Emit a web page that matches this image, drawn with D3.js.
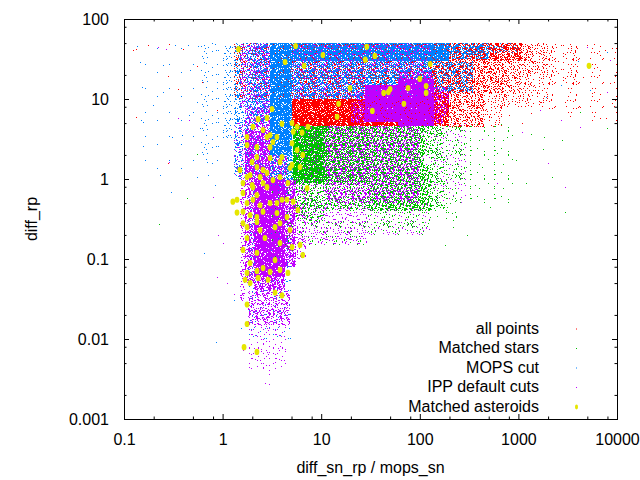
<!DOCTYPE html>
<html>
<head>
<meta charset="utf-8">
<title>diff_rp vs diff_sn_rp / mops_sn</title>
<script src="https://d3js.org/d3.v7.min.js"></script>
<style>
  body { margin: 0; background: #fff; }
  svg { display: block; }
  text { font-family: "Liberation Sans", Arial, sans-serif; font-size: 16px; fill: #000; }
</style>
</head>
<body>
<svg width="640" height="480"></svg>
<script>
// legend order = drawing order
const seriesNames = ["all points", "Matched stars", "MOPS cut", "IPP default cuts", "Matched asteroids"];
const seriesColors = ["#ff0000", "#00c000", "#0080ff", "#c000ff", "#e6e600"];

// dense areas, binned: [x0, x1, y0, y1, share of pixels hit]
const allPointsBins = [
  [1.3, 5, 10, 50, 0.15],
  [5, 130, 10, 50, 0.3],
  [5, 130, 4.6, 10, 0.85],
  [130, 200, 4.6, 12, 0.7],
  [200, 450, 4.5, 12, 0.3],
  [450, 700, 4.5, 8, 0.1],
  [130, 350, 12, 50, 0.45],
  [350, 1100, 30, 50, 0.55],
  [350, 700, 12, 30, 0.35],
  [700, 1100, 12, 30, 0.25],
  [450, 1100, 8, 12, 0.15],
  [1100, 2000, 20, 50, 0.2],
  [1100, 2000, 8, 20, 0.1],
  [2000, 4000, 15, 50, 0.07],
  [2000, 4000, 6, 15, 0.03],
  [4000, 10000, 5, 50, 0.02]
];
const starsBins = [
  [5.2, 11, 0.9, 4.6, 0.85],
  [11, 30, 0.9, 4.6, 0.55],
  [30, 110, 1.5, 4.6, 0.45],
  [30, 130, 0.4, 1.5, 0.45],
  [130, 180, 0.4, 2, 0.2],
  [11, 30, 0.4, 0.9, 0.25],
  [5, 11, 0.3, 0.9, 0.3],
  [110, 170, 2, 4.6, 0.25],
  [170, 300, 1, 4.6, 0.08],
  [180, 250, 0.3, 1, 0.05],
  [250, 1000, 0.5, 5, 0.02],
  [30, 130, 0.2, 0.4, 0.08],
  [3, 5.2, 0.1, 2, 0.08],
  [6, 30, 0.15, 0.3, 0.06]
];
const mopsBins = [
  [5, 200, 30, 50, 0.85],
  [200, 500, 32, 50, 0.45],
  [500, 1000, 38, 50, 0.12],
  [5, 130, 10, 30, 0.5],
  [130, 350, 12, 30, 0.3],
  [3, 5, 2, 50, 0.85],
  [3, 5.2, 0.8, 2, 0.45],
  [2, 3, 5, 50, 0.5],
  [1.3, 2, 5, 50, 0.25],
  [1.3, 3, 1, 5, 0.25],
  [1, 1.3, 3, 50, 0.07],
  [0.6, 1, 1.5, 50, 0.025],
  [0.15, 0.6, 1, 50, 0.004],
  [1.8, 5, 0.05, 0.8, 0.1],
  [1.8, 5, 0.01, 0.05, 0.03]
];
const ippBins = [
  [1.5, 3, 8, 50, 0.2],
  [1.7, 3, 4, 8, 0.35],
  [5, 30, 10, 50, 0.12],
  [30, 130, 22, 50, 0.15],
  [60, 140, 18, 22, 0.4],
  [22, 28, 9, 13, 0.3],
  [20, 28, 5, 9, 0.5],
  [28, 60, 5.2, 15, 0.95],
  [60, 140, 4.6, 18, 0.95],
  [140, 170, 5, 6, 0.3],
  [140, 200, 6, 14, 0.35],
  [2.1, 4.3, 0.06, 1, 0.9],
  [2.1, 4.3, 0.04, 0.06, 0.55],
  [1.7, 3, 1, 4, 0.7],
  [3, 4.5, 1, 2, 0.35],
  [4.3, 5.5, 0.08, 1, 0.55],
  [5.5, 7, 0.1, 0.8, 0.2],
  [1.7, 2.1, 0.05, 1, 0.45],
  [1.5, 1.7, 0.03, 1, 0.2],
  [1.3, 1.7, 1, 5, 0.12],
  [1.8, 4.8, 0.015, 0.04, 0.3],
  [1.8, 4.5, 0.004, 0.015, 0.06],
  [11, 100, 0.5, 4.6, 0.3],
  [5.5, 11, 0.3, 4.6, 0.08],
  [5.5, 30, 0.15, 0.5, 0.12],
  [100, 300, 0.5, 5, 0.04],
  [30, 130, 0.2, 0.5, 0.05]
];

// single points in the sparse areas: [x, y]
const allPointsSparse = [
  [0.123, 41], [0.132, 42.2], [0.175, 47.3], [0.221, 44.7], [0.286, 48.7], [0.397, 42.2],
  [0.353, 13.3], [0.279, 19.4], [0.132, 6.0], [0.549, 25.9], [0.618, 16.3], [0.279, 1.58],
  [0.877, 7.3], [5000, 47], [7500, 41], [3600, 33], [2500, 21], [5600, 12], [4200, 8],
  [1350, 6.7], [1650, 9.2], [7700, 5.8], [1100, 5], [800, 6.3], [6300, 25], [8400, 15.8],
  [9000, 44], [6800, 35], [4500, 19], [8800, 9]
];
const starsSparse = [
  [0.226, 0.27], [0.435, 0.58], [0.549, 2.05], [1760, 2.4], [2200, 1.06], [3000, 0.39],
  [4200, 6.9], [8000, 4.3], [950, 1.74], [600, 2.1], [360, 0.84], [425, 1.41], [1350, 3.7],
  [1800, 3.35], [2800, 3.1], [770, 3.35], [230, 0.89], [150, 0.34], [215, 0.25], [300, 0.2],
  [180, 0.15], [520, 0.45], [1200, 0.9]
];
const mopsSparse = [
  [0.145, 29], [0.152, 14.1], [0.249, 26.6], [0.197, 8.4], [0.249, 12.2], [0.307, 3.35],
  [0.156, 2.6], [0.232, 1.12], [0.30, 0.69], [0.467, 23.1], [0.549, 9.17], [0.456, 6.3],
  [0.388, 3.5], [0.549, 1.06], [0.59, 4.3], [0.648, 29], [0.877, 16.3], [0.898, 5.8],
  [0.837, 0.84], [0.156, 5.2], [0.149, 5.5], [0.135, 46], [0.329, 47.3], [0.446, 47.3],
  [0.563, 46], [0.648, 47.3], [0.837, 48.7], [0.65, 0.12], [0.71, 1.12], [0.69, 1.63],
  [0.86, 0.0093], [1.3, 0.031], [1.53, 0.0137], [2700, 15], [5300, 13], [8000, 39],
  [1900, 10.5], [4000, 30]
];
const ippSparse = [
  [8400, 31], [4200, 4.5], [1100, 3.9], [2700, 5.5], [5000, 44.7], [8000, 12.2], [1650, 7.3],
  [425, 3.2], [0.267, 42.2], [0.221, 44.7], [0.353, 5.8], [0.456, 5.5], [0.286, 1.63],
  [2.7, 0.0028], [2.95, 0.0037], [1.85, 0.0045], [3.4, 0.0052], [3.82, 0.0082], [0.9, 0.2],
  [1.1, 0.05], [0.8, 0.6], [600, 0.9], [2000, 1.6], [3000, 0.8], [0.87, 0.06], [1.0, 0.16],
  [1.3, 0.037], [1.6, 0.0073], [2.95, 0.0027]
];
const asteroids = [
  [1.45, 42], [4.3, 29], [5.5, 46], [10.4, 35.5], [6.7, 26], [19.6, 13.7], [29, 45], [35, 34.5],
  [28, 31], [127, 27.4], [100, 17.8], [50, 13.3], [76, 13.7], [116, 14.5], [116, 11.9], [43, 11.9],
  [48, 12.2], [69, 8.7], [33, 7.1], [15, 8.7], [14.5, 6], [5200, 26],
  [3.17, 7.5], [2.82, 5.8], [2.29, 5.6], [4.0, 4.9], [5.06, 5.0], [5.7, 4.5], [7.35, 4.5],
  [2.03, 4.5], [2.57, 4.1], [5.2, 3.9], [6.4, 3.8], [3.03, 3.55], [1.77, 3.35], [2.82, 3.35],
  [3.56, 3.35], [3.24, 2.9], [1.77, 2.66], [2.23, 2.5], [3.03, 2.5], [5.06, 2.8], [5.7, 2.3],
  [6.5, 2.0], [2.23, 1.88], [3.03, 1.83], [4.0, 1.88], [1.99, 1.63], [3.82, 1.63], [5.06, 1.5],
  [6.1, 1.41], [2.23, 1.41], [2.57, 1.3], [4.83, 1.37], [1.5, 1.3], [2.82, 1.19], [1.9, 1.12],
  [1.77, 1.06], [2.4, 1.06], [3.82, 1.06], [3.24, 0.97], [1.61, 0.89], [2.57, 0.89], [4.6, 0.89],
  [1.99, 0.84], [2.03, 0.79], [2.82, 0.79], [7.2, 0.77], [1.61, 0.67], [2.23, 0.63],
  [1.27, 0.52], [1.4, 0.55], [1.77, 0.5], [2.03, 0.55], [2.4, 0.47], [3.03, 0.5], [3.56, 0.5],
  [4.0, 0.55], [4.5, 0.55], [5.2, 0.52], [5.8, 0.41], [1.4, 0.38], [1.61, 0.39], [1.9, 0.355],
  [2.57, 0.39], [2.23, 0.335], [3.56, 0.376], [4.5, 0.335], [1.61, 0.28], [2.23, 0.29],
  [3.82, 0.28], [1.77, 0.25], [2.4, 0.23], [3.4, 0.25], [4.83, 0.23], [1.77, 0.183], [2.69, 0.183],
  [3.82, 0.158], [5.06, 0.141], [6.1, 0.15], [1.61, 0.13], [2.23, 0.119], [6.5, 0.112],
  [3.4, 0.097], [1.9, 0.089], [2.57, 0.077], [3.82, 0.073], [1.77, 0.067], [4.6, 0.067],
  [2.23, 0.071], [3.03, 0.069], [2.29, 0.058], [2.89, 0.055], [1.69, 0.055], [1.9, 0.05],
  [3.4, 0.038], [4.0, 0.035], [1.77, 0.027], [1.77, 0.0154], [1.65, 0.0079], [2.23, 0.0069]
];

const xTicks = [0.1, 1, 10, 100, 1000, 10000];
const yTicks = [0.001, 0.01, 0.1, 1, 10, 100];
const minorSteps = [2, 5, 8];

const binsBySeries = [allPointsBins, starsBins, mopsBins, ippBins];
const sparseBySeries = [allPointsSparse, starsSparse, mopsSparse, ippSparse];

// layout
const plotLeft = 124, plotRight = 617, plotTop = 19, plotBottom = 419;

const svg = d3.select("svg");
const x = d3.scaleLog().domain([0.1, 10000]).range([plotLeft, plotRight]);
const y = d3.scaleLog().domain([0.001, 100]).range([plotBottom, plotTop]);

const defs = svg.append("defs");
defs.append("clipPath").attr("id", "plot-clip")
  .append("rect")
  .attr("x", plotLeft).attr("y", plotTop)
  .attr("width", plotRight - plotLeft).attr("height", plotBottom - plotTop);

// dot texture for the binned areas (1px dots like gnuplot's "with dots")
const tile = 24;
function mix(i, s) {
  let h = Math.imul(i + 1, 2654435761) ^ Math.imul(s + 7, 40503);
  h ^= h >>> 15;
  h = Math.imul(h, 2246822519);
  h ^= h >>> 13;
  return h >>> 0;
}
const dotOrder = d3.range(4).map(s =>
  d3.range(tile * tile).sort((a, b) => mix(a, s * 97 + 3) - mix(b, s * 97 + 3))
);
const patternIds = new Map();
function fillFor(si, share) {
  if (share >= 1) return seriesColors[si];
  const key = si + "-" + Math.round(share * 1000);
  if (!patternIds.has(key)) {
    const id = "dots-" + key;
    const n = Math.max(1, Math.round(share * tile * tile));
    const d = dotOrder[si].slice(0, n)
      .map(c => `M${c % tile},${Math.floor(c / tile)}h1v1h-1z`).join("");
    defs.append("pattern")
      .attr("id", id)
      .attr("patternUnits", "userSpaceOnUse")
      .attr("width", tile).attr("height", tile)
      .append("path")
      .attr("d", d)
      .attr("fill", seriesColors[si])
      .attr("shape-rendering", "crispEdges");
    patternIds.set(key, id);
  }
  return `url(#${patternIds.get(key)})`;
}

const plot = svg.append("g").attr("clip-path", "url(#plot-clip)");

binsBySeries.forEach((bins, si) => {
  const g = plot.append("g").attr("class", "series-" + si);
  g.selectAll("rect.bin")
    .data(bins)
    .join("rect")
    .attr("class", "bin")
    .attr("x", d => Math.round(x(d[0])))
    .attr("y", d => Math.round(y(d[3])))
    .attr("width", d => Math.round(x(d[1])) - Math.round(x(d[0])))
    .attr("height", d => Math.round(y(d[2])) - Math.round(y(d[3])))
    .attr("fill", d => fillFor(si, d[4]))
    .attr("shape-rendering", "crispEdges");

  g.selectAll("rect.dot")
    .data(sparseBySeries[si])
    .join("rect")
    .attr("class", "dot")
    .attr("x", d => Math.round(x(d[0])))
    .attr("y", d => Math.round(y(d[1])))
    .attr("width", 1).attr("height", 1)
    .attr("fill", seriesColors[si])
    .attr("shape-rendering", "crispEdges");
});

plot.append("g")
  .selectAll("ellipse")
  .data(asteroids)
  .join("ellipse")
  .attr("cx", d => x(d[0]))
  .attr("cy", d => y(d[1]))
  .attr("rx", 2.4).attr("ry", 3.1)
  .attr("fill", seriesColors[4]);

// axes: inward ticks on all four sides, labels only bottom/left
function minorOf(domain) {
  const out = [];
  for (let p = Math.log10(domain[0]); p < Math.log10(domain[1]); p++) {
    minorSteps.forEach(m => out.push(m * Math.pow(10, p)));
  }
  return out;
}
const fmt = d => String(d);

function addAxis(axis, transform) {
  const g = svg.append("g").attr("transform", transform).call(axis);
  g.select(".domain").remove();
  g.selectAll("text").style("font-size", "16px")
    .style("font-family", '"Liberation Sans", Arial, sans-serif');
  return g;
}

addAxis(d3.axisBottom(x).tickValues(xTicks).tickFormat(fmt)
  .tickSizeInner(-5).tickSizeOuter(0).tickPadding(15), `translate(0,${plotBottom})`);
addAxis(d3.axisBottom(x).tickValues(minorOf(x.domain())).tickFormat("")
  .tickSizeInner(-2.5).tickSizeOuter(0), `translate(0,${plotBottom})`);
addAxis(d3.axisTop(x).tickValues(xTicks).tickFormat("")
  .tickSizeInner(-5).tickSizeOuter(0), `translate(0,${plotTop})`);
addAxis(d3.axisTop(x).tickValues(minorOf(x.domain())).tickFormat("")
  .tickSizeInner(-2.5).tickSizeOuter(0), `translate(0,${plotTop})`);

addAxis(d3.axisLeft(y).tickValues(yTicks).tickFormat(fmt)
  .tickSizeInner(-5).tickSizeOuter(0).tickPadding(15), `translate(${plotLeft},0)`);
addAxis(d3.axisLeft(y).tickValues(minorOf(y.domain())).tickFormat("")
  .tickSizeInner(-2.5).tickSizeOuter(0), `translate(${plotLeft},0)`);
addAxis(d3.axisRight(y).tickValues(yTicks).tickFormat("")
  .tickSizeInner(-5).tickSizeOuter(0), `translate(${plotRight},0)`);
addAxis(d3.axisRight(y).tickValues(minorOf(y.domain())).tickFormat("")
  .tickSizeInner(-2.5).tickSizeOuter(0), `translate(${plotRight},0)`);

svg.append("rect")
  .attr("x", plotLeft + 0.5).attr("y", plotTop + 0.5)
  .attr("width", plotRight - plotLeft).attr("height", plotBottom - plotTop)
  .attr("fill", "none").attr("stroke", "#000").attr("stroke-width", 1);

// axis titles
svg.append("text")
  .attr("x", (plotLeft + plotRight) / 2)
  .attr("y", 473)
  .attr("text-anchor", "middle")
  .text("diff_sn_rp / mops_sn");
svg.append("text")
  .attr("transform", `translate(37,${(plotTop + plotBottom) / 2}) rotate(-90)`)
  .attr("text-anchor", "middle")
  .text("diff_rp");

// legend
const legend = svg.append("g");
const legendRows = legend.selectAll("g")
  .data(seriesNames)
  .join("g")
  .attr("transform", (d, i) => `translate(0,${333.5 + i * 19.5})`);
legendRows.append("text")
  .attr("x", 539)
  .attr("text-anchor", "end")
  .text(d => d);
legendRows.filter((d, i) => i < 4).append("rect")
  .attr("x", 576).attr("y", -5)
  .attr("width", 1).attr("height", 1)
  .attr("fill", (d, i) => seriesColors[i]);
legendRows.filter((d, i) => i === 4).append("ellipse")
  .attr("cx", 576.5).attr("cy", -4.5)
  .attr("rx", 1.5).attr("ry", 2.4)
  .attr("fill", seriesColors[4]);
</script>
</body>
</html>
